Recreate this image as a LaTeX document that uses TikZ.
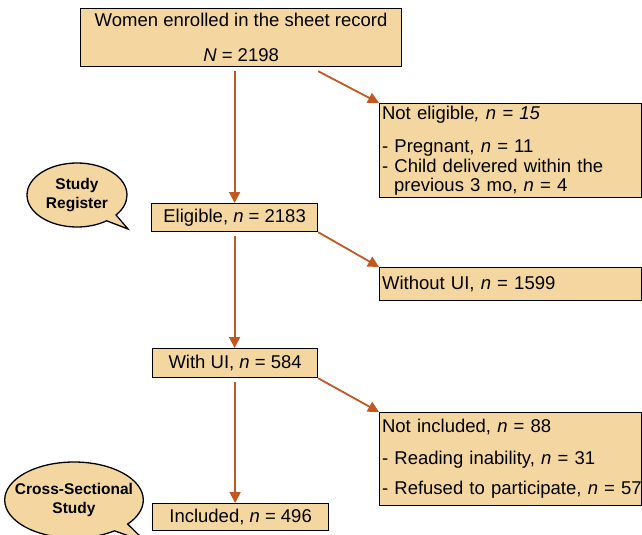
\documentclass[tikz,border=0pt]{standalone}
\usepackage{fontspec}
\setmainfont{Liberation Sans}
\usetikzlibrary{arrows.meta, shapes.callouts}
\definecolor{boxtan}{RGB}{244,215,160}
\definecolor{arrowbrown}{RGB}{192,88,32}

\begin{document}
\begin{tikzpicture}[x=1pt, y=-1pt,
  box/.style={draw, line width=1.2pt, fill=boxtan, inner sep=0pt, anchor=north west, font=\fontsize{18.5}{19.5}\selectfont},
  sidebox/.style={box, inner xsep=2.5pt, text width=257pt, align=left},
  bubble/.style={ellipse callout, draw, line width=1.3pt, fill=boxtan, inner sep=0pt, font=\bfseries\fontsize{15.5}{18.5}\selectfont, align=center},
  arr/.style={draw=arrowbrown, line width=1.8pt, -{Triangle[length=11pt, width=11pt]}, arrowbrown}]
\useasboundingbox (0,0) rectangle (642,535);
\node[box, minimum width=321pt, minimum height=58pt, align=center] (records) at (80,8) {Women enrolled in the sheet record\\[15pt]\textit{N} = 2198};
\node[sidebox, minimum height=94pt] (noteligible) at (379,103) {Not eligible\textit{, n = 15}\\[14pt]- Pregnant, \textit{n} = 11\\- Child delivered within the\\\hspace*{12pt}previous 3 mo, \textit{n} = 4};
\node[box, minimum width=166pt, minimum height=28pt] (eligible) at (151,203) {Eligible, \textit{n} = 2183};
\node[sidebox, minimum height=33pt] (withoutui) at (379,267) {Without UI, \textit{n} = 1599};
\node[box, minimum width=165pt, minimum height=29pt] (withui) at (152,348) {With UI, \textit{n} = 584};
\node[sidebox, minimum height=93pt] (notincluded) at (379,412) {Not included, \textit{n} = 88\\[12pt]- Reading inability, \textit{n} = 31\\[11pt]\mbox{- Refused to participate, \textit{n} = 57}};
\node[box, minimum width=176pt, minimum height=27pt] (included) at (152,503) {Included, \textit{n} = 496};
\node[bubble, minimum width=100pt, minimum height=64pt, callout absolute pointer={(128,229)}] (register) at (77,195) {Study\\Register};
\node[bubble, inner xsep=-10pt, minimum width=138pt, minimum height=76pt, callout absolute pointer={(146,542)}] (crosssec) at (74,500) {Cross-Sectional\\Study};
\coordinate (recbase) at ([yshift=-4pt]records.south);
\draw[arr] (recbase -| eligible.north) -- (eligible.north);
\draw[arr] (recbase -| eligible.east) -- (noteligible.north west);
\draw[arr] ([yshift=-4pt]eligible.south) -- (eligible.south |- withui.north);
\draw[arr] (eligible.south east) -- (withoutui.north west);
\draw[arr] ([yshift=-4pt]withui.south) -- (withui.south |- included.north);
\draw[arr] (withui.south east) -- (notincluded.north west);
\end{tikzpicture}
\end{document}
